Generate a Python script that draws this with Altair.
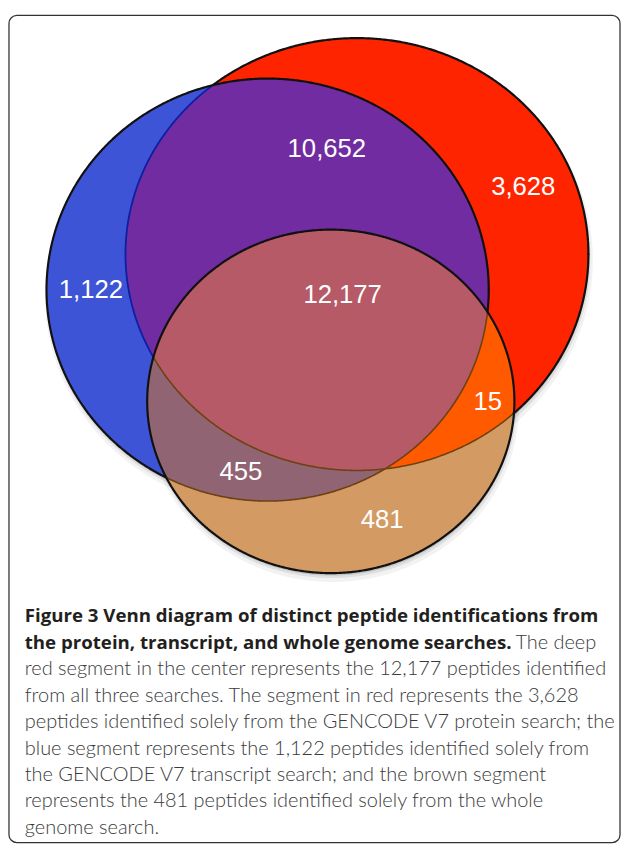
import numpy as np
import pandas as pd
import altair as alt

# ---- data: peptide counts per Venn region ----
region_names = ["transcript only", "protein & transcript", "protein only", "all three",
                "protein & genome", "transcript & genome", "genome only"]
region_counts = [1122, 10652, 3628, 12177, 15, 455, 481]

# ---- layout of the three sets (diagram units) ----
set_names = ["protein", "transcript", "genome"]
set_cx = [353.5, 263.0, 327.0]
set_cy = [244.0, 280.0, 393.0]
set_rx = [234.5, 224.0, 186.0]
set_ry = [219.0, 214.0, 174.0]
# label anchor per region (diagram units)
label_x = [84, 323, 522, 339, 486, 236, 379]
label_y = [280, 137, 176, 285, 394, 465, 513]

caption_bold = ["Figure 3 Venn diagram of distinct peptide identifications from",
                "the protein, transcript, and whole genome searches."]
caption_tail = "The deep"
caption_rest = ["red segment in the center represents the 12,177 peptides identified",
                "from all three searches. The segment in red represents the 3,628",
                "peptides identified solely from the GENCODE V7 protein search; the",
                "blue segment represents the 1,122 peptides identified solely from",
                "the GENCODE V7 transcript search; and the brown segment",
                "represents the 481 peptides identified solely from the whole",
                "genome search."]

# ---- styles ----
C_RED, C_BLUE, C_BROWN = "#FF2400", "#3D54D6", "#D39B63"
C_PURPLE, C_CENTER = "#702CA0", "#B55A66"
C_BLUEBROWN, C_REDBROWN = "#916473", "#FF5A00"

N = 480


def ellipse(i, dx=0.0, dy=0.0, grow=0.0, n=N):
    t = np.linspace(0, 2 * np.pi, n, endpoint=False)
    return [(float(set_cx[i] + dx + (set_rx[i] + grow) * np.cos(a)),
             float(set_cy[i] + dy + (set_ry[i] + grow) * np.sin(a))) for a in t]


def clip(subject, clipper):
    def inside(p, a, b):
        return (b[0] - a[0]) * (p[1] - a[1]) - (b[1] - a[1]) * (p[0] - a[0]) >= 0

    def inter(s, e, a, b):
        x1, y1 = s; x2, y2 = e; x3, y3 = a; x4, y4 = b
        den = (x1 - x2) * (y3 - y4) - (y1 - y2) * (x3 - x4)
        if den == 0:
            return e
        tt = ((x1 - x3) * (y3 - y4) - (y1 - y3) * (x3 - x4)) / den
        return (x1 + tt * (x2 - x1), y1 + tt * (y2 - y1))

    out = subject
    n = len(clipper)
    for k in range(n):
        a, b = clipper[k], clipper[(k + 1) % n]
        inp, out = out, []
        if not inp:
            break
        s = inp[-1]
        for e in inp:
            if inside(e, a, b):
                if not inside(s, a, b):
                    out.append(inter(s, e, a, b))
                out.append(e)
            elif inside(s, a, b):
                out.append(inter(s, e, a, b))
            s = e
    return out


def poly_feature(pts, color, opacity=1.0):
    ring = [list(p) for p in pts] + [list(pts[0])]
    return {"type": "Feature", "geometry": {"type": "Polygon", "coordinates": [ring]},
            "properties": {"color": color, "op": opacity}}


R, B, G = ellipse(0), ellipse(1), ellipse(2)
RB = clip(R, B)
GB = clip(G, B)
GR = clip(G, R)
GRB = clip(GB, R)

shadow = []
for i in range(3):
    shadow.append(poly_feature(ellipse(i, 1.5, 6, 3), "#000000", 0.05))
    shadow.append(poly_feature(ellipse(i, 1, 4, 1), "#000000", 0.08))
    shadow.append(poly_feature(ellipse(i, 0.5, 2.5, 0), "#000000", 0.12))

fills = [poly_feature(R, C_RED), poly_feature(B, C_BLUE), poly_feature(RB, C_PURPLE),
         poly_feature(G, C_BROWN), poly_feature(GB, C_BLUEBROWN),
         poly_feature(GR, C_REDBROWN), poly_feature(GRB, C_CENTER)]


def inside_set(p, j):
    return ((p[0] - set_cx[j]) / set_rx[j]) ** 2 + ((p[1] - set_cy[j]) / set_ry[j]) ** 2 < 1


def outline_features(i):
    pts = ellipse(i, n=900)
    cols = []
    for p in pts:
        if i == 2:
            cols.append(("#111111", 2.2))
        elif inside_set(p, 2):
            cols.append(("#6E4110", 1.6))
        elif i == 0 and inside_set(p, 1):
            cols.append(("#0B1FA0", 1.8))
        else:
            cols.append(("#111111", 2.2))
    feats = []
    start = 0
    n = len(pts)
    for k in range(1, n + 1):
        if k == n or cols[k] != cols[start]:
            seg = pts[start:k] + [pts[k % n]]
            feats.append({"type": "Feature",
                          "geometry": {"type": "LineString", "coordinates": [list(p) for p in seg]},
                          "properties": {"color": cols[start][0], "w": cols[start][1]}})
            start = k
    return feats


lines = outline_features(0) + outline_features(1) + outline_features(2)

PROJ = dict(type="identity", scale=1, translate=[0, 0])

shadow_layer = alt.Chart(alt.Data(values=shadow)).mark_geoshape(stroke=None).encode(
    fill=alt.Fill("properties.color:N", scale=None),
    fillOpacity=alt.FillOpacity("properties.op:Q", scale=None),
).project(**PROJ)

fill_layer = alt.Chart(alt.Data(values=fills)).mark_geoshape(stroke=None).encode(
    fill=alt.Fill("properties.color:N", scale=None),
).project(**PROJ)

line_layer = alt.Chart(alt.Data(values=lines)).mark_geoshape(filled=False, strokeCap="round").encode(
    stroke=alt.Stroke("properties.color:N", scale=None),
    strokeWidth=alt.StrokeWidth("properties.w:Q", scale=None),
).project(**PROJ)

labels_df = pd.DataFrame({"region": region_names, "count": region_counts,
                          "lx": label_x, "ly": label_y})
label_layer = alt.Chart(labels_df).mark_text(
    color="white", font="Liberation Sans", fontSize=26, align="center", baseline="middle"
).encode(
    longitude="lx:Q", latitude="ly:Q", text=alt.Text("count:Q", format=",")
).project(**PROJ)

ysc = alt.Scale(domain=[0, 8], range=[611, 825])
bold_df = pd.DataFrame({"line": [0, 1], "t": caption_bold})
bold_layer = alt.Chart(bold_df).mark_text(
    font="Open Sans", fontWeight="bold", fontSize=18.9, color="#231F20", align="left", baseline="middle"
).encode(x=alt.value(17), y=alt.Y("line:Q", scale=ysc, axis=None), text="t:N")

tail_df = pd.DataFrame({"line": [1], "t": [caption_tail]})
tail_layer = alt.Chart(tail_df).mark_text(
    font="Lato", fontWeight=300, fontSize=20.2, color="#3A3A3C", align="left", baseline="middle"
).encode(x=alt.value(514), y=alt.Y("line:Q", scale=ysc, axis=None), text="t:N")

rest_df = pd.DataFrame({"line": list(range(2, 2 + len(caption_rest))), "t": caption_rest})
rest_layer = alt.Chart(rest_df).mark_text(
    font="Lato", fontWeight=300, fontSize=20.2, color="#3A3A3C", align="left", baseline="middle"
).encode(x=alt.value(17), y=alt.Y("line:Q", scale=ysc, axis=None), text="t:N")

frame = alt.Chart(pd.DataFrame({"a": [0]})).mark_rect(
    fill=None, stroke="#333333", strokeWidth=1.3, cornerRadius=8
).encode(x=alt.value(1), x2=alt.value(620), y=alt.value(2), y2=alt.value(840))

chart = alt.layer(
    frame, shadow_layer, fill_layer, line_layer, label_layer, bold_layer, tail_layer, rest_layer
).properties(
    width=621, height=843, padding=0, autosize="none"
).configure_view(stroke=None)

chart.save("out.html", embed_options={"renderer": "svg", "actions": False})
